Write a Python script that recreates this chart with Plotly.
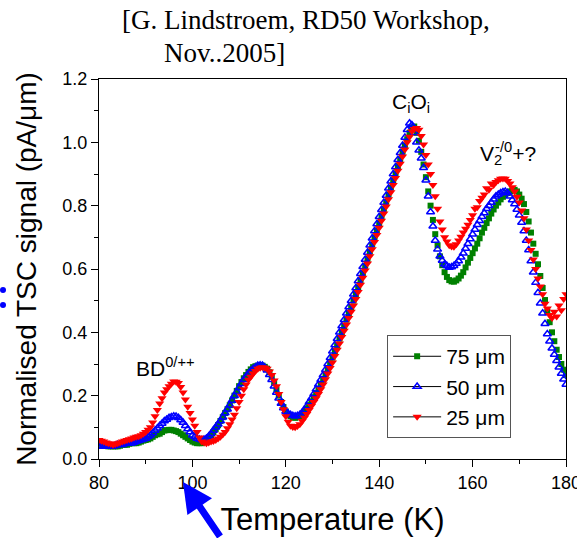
import plotly.graph_objects as go

# Temperature grid (K), 0.5 K steps from 80 to 180
temperature = [80 + 0.5 * i for i in range(201)]

# 75 um  (each row = 5 K, 0.5 K steps)
tsc_75 = [
    0.050, 0.048, 0.045, 0.042, 0.040, 0.040, 0.040, 0.040, 0.040, 0.042,   # 80
    0.045, 0.045, 0.045, 0.048, 0.050, 0.050, 0.050, 0.052, 0.055, 0.058,   # 85
    0.060, 0.062, 0.065, 0.070, 0.075, 0.078, 0.080, 0.085, 0.090, 0.091,   # 90
    0.092, 0.092, 0.090, 0.088, 0.085, 0.080, 0.075, 0.070, 0.065, 0.060,   # 95
    0.055, 0.052, 0.050, 0.050, 0.050, 0.055, 0.060, 0.067, 0.075, 0.085,   # 100
    0.095, 0.107, 0.120, 0.132, 0.145, 0.157, 0.170, 0.185, 0.200, 0.215,   # 105
    0.230, 0.243, 0.255, 0.265, 0.275, 0.283, 0.290, 0.293, 0.295, 0.296,   # 110
    0.295, 0.291, 0.285, 0.274, 0.260, 0.241, 0.220, 0.200, 0.180, 0.164,   # 115
    0.150, 0.141, 0.135, 0.132, 0.130, 0.132, 0.135, 0.142, 0.150, 0.160,   # 120
    0.170, 0.182, 0.195, 0.207, 0.220, 0.235, 0.250, 0.267, 0.285, 0.302,   # 125
    0.320, 0.340, 0.360, 0.380, 0.400, 0.420, 0.440, 0.460, 0.480, 0.500,   # 130
    0.520, 0.542, 0.565, 0.587, 0.610, 0.632, 0.655, 0.677, 0.700, 0.722,   # 135
    0.745, 0.767, 0.790, 0.812, 0.835, 0.857, 0.880, 0.902, 0.925, 0.947,   # 140
    0.970, 0.990, 1.010, 1.030, 1.045, 1.050, 1.030, 1.005, 0.970, 0.930,   # 145
    0.890, 0.845, 0.800, 0.755, 0.710, 0.675, 0.640, 0.612, 0.590, 0.575,   # 150
    0.565, 0.561, 0.560, 0.564, 0.570, 0.579, 0.590, 0.605, 0.620, 0.635,   # 155
    0.650, 0.665, 0.680, 0.697, 0.715, 0.730, 0.745, 0.760, 0.775, 0.788,   # 160
    0.800, 0.810, 0.820, 0.828, 0.835, 0.840, 0.845, 0.848, 0.850, 0.845,   # 165
    0.835, 0.822, 0.805, 0.780, 0.750, 0.715, 0.680, 0.648, 0.615, 0.578,   # 170
    0.540, 0.502, 0.465, 0.432, 0.400, 0.372, 0.345, 0.322, 0.300, 0.282,   # 175
    0.265,                                                                  # 180
]

# 50 um
tsc_50 = [
    0.040, 0.040, 0.040, 0.040, 0.040, 0.040, 0.040, 0.042, 0.045, 0.045,   # 80
    0.045, 0.048, 0.050, 0.050, 0.050, 0.052, 0.055, 0.058, 0.060, 0.062,   # 85
    0.065, 0.070, 0.075, 0.082, 0.090, 0.097, 0.105, 0.112, 0.120, 0.125,   # 90
    0.130, 0.133, 0.135, 0.134, 0.130, 0.123, 0.115, 0.105, 0.095, 0.085,   # 95
    0.075, 0.070, 0.065, 0.062, 0.060, 0.062, 0.065, 0.072, 0.080, 0.090,   # 100
    0.100, 0.110, 0.120, 0.132, 0.145, 0.157, 0.170, 0.185, 0.200, 0.212,   # 105
    0.225, 0.238, 0.250, 0.260, 0.270, 0.278, 0.285, 0.290, 0.295, 0.296,   # 110
    0.295, 0.289, 0.280, 0.266, 0.250, 0.230, 0.210, 0.192, 0.175, 0.161,   # 115
    0.150, 0.144, 0.140, 0.137, 0.135, 0.137, 0.140, 0.147, 0.155, 0.167,   # 120
    0.180, 0.192, 0.205, 0.220, 0.235, 0.250, 0.265, 0.282, 0.300, 0.320,   # 125
    0.340, 0.360, 0.380, 0.400, 0.420, 0.440, 0.460, 0.480, 0.500, 0.520,   # 130
    0.540, 0.562, 0.585, 0.607, 0.630, 0.652, 0.675, 0.697, 0.720, 0.742,   # 135
    0.765, 0.787, 0.810, 0.832, 0.855, 0.877, 0.900, 0.922, 0.945, 0.967,   # 140
    0.990, 1.015, 1.040, 1.060, 1.055, 1.030, 1.000, 0.975, 0.950, 0.920,   # 145
    0.880, 0.830, 0.780, 0.735, 0.690, 0.662, 0.640, 0.627, 0.615, 0.610,   # 150
    0.605, 0.606, 0.610, 0.617, 0.625, 0.637, 0.650, 0.665, 0.680, 0.695,   # 155
    0.710, 0.725, 0.740, 0.752, 0.765, 0.777, 0.790, 0.800, 0.810, 0.820,   # 160
    0.830, 0.835, 0.840, 0.843, 0.845, 0.840, 0.830, 0.818, 0.805, 0.788,   # 165
    0.770, 0.747, 0.720, 0.690, 0.660, 0.625, 0.590, 0.557, 0.525, 0.492,   # 170
    0.460, 0.427, 0.395, 0.372, 0.350, 0.330, 0.310, 0.290, 0.270, 0.252,   # 175
    0.235,                                                                  # 180
]

# 25 um
tsc_25 = [
    0.060, 0.058, 0.055, 0.052, 0.050, 0.048, 0.045, 0.047, 0.050, 0.052,   # 80
    0.055, 0.058, 0.060, 0.062, 0.065, 0.068, 0.070, 0.072, 0.075, 0.080,   # 85
    0.085, 0.092, 0.100, 0.115, 0.135, 0.155, 0.175, 0.192, 0.210, 0.220,   # 90
    0.230, 0.238, 0.245, 0.244, 0.240, 0.227, 0.210, 0.188, 0.165, 0.145,   # 95
    0.125, 0.105, 0.085, 0.068, 0.055, 0.052, 0.050, 0.052, 0.055, 0.057,   # 100
    0.060, 0.065, 0.070, 0.077, 0.085, 0.097, 0.110, 0.125, 0.140, 0.160,   # 105
    0.180, 0.200, 0.220, 0.235, 0.250, 0.260, 0.270, 0.278, 0.285, 0.288,   # 110
    0.290, 0.288, 0.285, 0.276, 0.265, 0.248, 0.230, 0.205, 0.180, 0.157,   # 115
    0.135, 0.118, 0.105, 0.101, 0.100, 0.104, 0.110, 0.120, 0.130, 0.142,   # 120
    0.155, 0.167, 0.180, 0.192, 0.205, 0.220, 0.235, 0.252, 0.270, 0.287,   # 125
    0.305, 0.325, 0.345, 0.365, 0.385, 0.405, 0.425, 0.445, 0.465, 0.485,   # 130
    0.505, 0.527, 0.550, 0.572, 0.595, 0.617, 0.640, 0.662, 0.685, 0.707,   # 135
    0.730, 0.752, 0.775, 0.797, 0.820, 0.842, 0.865, 0.887, 0.910, 0.932,   # 140
    0.955, 0.977, 1.000, 1.018, 1.035, 1.042, 1.045, 1.040, 1.020, 0.993,   # 145
    0.960, 0.930, 0.900, 0.865, 0.830, 0.790, 0.750, 0.725, 0.700, 0.687,   # 150
    0.675, 0.671, 0.670, 0.678, 0.690, 0.702, 0.715, 0.727, 0.740, 0.755,   # 155
    0.770, 0.790, 0.795, 0.815, 0.825, 0.835, 0.855, 0.850, 0.870, 0.865,   # 160
    0.875, 0.880, 0.885, 0.886, 0.885, 0.878, 0.870, 0.858, 0.845, 0.828,   # 165
    0.810, 0.785, 0.760, 0.725, 0.690, 0.660, 0.630, 0.600, 0.570, 0.545,   # 170
    0.520, 0.490, 0.475, 0.455, 0.445, 0.465, 0.450, 0.485, 0.470, 0.505,   # 175
    0.520,                                                                  # 180
]

series_names = ["75 \u03bcm", "50 \u03bcm", "25 \u03bcm"]

SANS = "Liberation Sans, Arial, sans-serif"
SERIF = "Liberation Serif, Times New Roman, serif"

green = "#008000"
blue = "#0000FF"
red = "#FF0000"

marker_styles = [
    dict(symbol="square", size=6, color=green),
    dict(symbol="triangle-up-open", size=7, color=blue, line=dict(width=1.5, color=blue)),
    dict(symbol="triangle-down", size=8, color=red),
]

fig = go.Figure()

for yvals, mk in zip([tsc_75, tsc_50, tsc_25], marker_styles):
    fig.add_trace(go.Scatter(x=temperature, y=yvals, mode="markers",
                             showlegend=False, marker=mk))

# legend entries (line + marker, as in the original)
for name, mk in zip(series_names, marker_styles):
    fig.add_trace(go.Scatter(
        x=[None], y=[None], mode="lines+markers", name=name,
        line=dict(color="black", width=1), marker=mk,
    ))

axis_common = dict(
    showline=True, linecolor="black", linewidth=1, mirror=True,
    ticks="outside", ticklen=7, tickwidth=1, tickcolor="black",
    showgrid=False, zeroline=False, automargin=False,
    tickfont=dict(family=SANS, size=18, color="black"),
)

fig.update_xaxes(
    range=[80, 180], dtick=20, tick0=80, ticklabeloverflow="allow",
    minor=dict(dtick=10, ticks="outside", ticklen=4, tickcolor="black"),
    title=dict(text="Temperature (K)", font=dict(family=SANS, size=31, color="black"), standoff=16),
    **axis_common,
)
fig.update_yaxes(
    range=[0, 1.2], dtick=0.2, tick0=0, tickformat=".1f",
    minor=dict(dtick=0.1, ticks="outside", ticklen=4, tickcolor="black"),
    title=dict(text="Normalised TSC signal (pA/\u03bcm)", font=dict(family=SANS, size=28, color="black"), standoff=17),
    **axis_common,
)

fig.update_layout(
    width=577, height=538,
    margin=dict(l=99, r=11, t=79, b=79),
    paper_bgcolor="white", plot_bgcolor="white",
    legend=dict(
        x=0.617, y=0.326, xanchor="left", yanchor="top",
        bordercolor="#555555", borderwidth=1, bgcolor="white",
        font=dict(family=SANS, size=21, color="black"),
        tracegroupgap=0, itemwidth=48,
    ),
)

# Title lines
fig.add_annotation(text="[G. Lindstroem, RD50 Workshop,", xref="paper", yref="paper",
                   x=(120 - 99) / 467, y=1 + (79 - 20) / 380, xanchor="left", yanchor="middle",
                   showarrow=False, font=dict(family=SERIF, size=27, color="black"))
fig.add_annotation(text="Nov..2005]", xref="paper", yref="paper",
                   x=(162 - 99) / 467, y=1 + (79 - 53) / 380, xanchor="left", yanchor="middle",
                   showarrow=False, font=dict(family=SERIF, size=27, color="black"))

# Peak labels
fig.add_annotation(text="BD<sup>0/++</sup>", x=94.2, y=0.29, xanchor="center", yanchor="middle",
                   showarrow=False, font=dict(family=SANS, size=21, color="black"))
fig.add_annotation(text="C<sub>i</sub>O<sub>i</sub>", x=146.8, y=1.124, xanchor="center", yanchor="middle",
                   showarrow=False, font=dict(family=SANS, size=21, color="black"))
fig.add_annotation(text="V<sub>2</sub>", x=161.2, y=0.96, xanchor="left", yanchor="middle",
                   showarrow=False, font=dict(family=SANS, size=21, color="black"))
fig.add_annotation(text="<sup>-/0</sup>+?", x=164.4, y=0.968, xanchor="left", yanchor="middle",
                   showarrow=False, font=dict(family=SANS, size=21, color="black"))

# Blue arrow pointing at the BD peak temperature
fig.add_annotation(text="", xref="paper", yref="paper",
                   x=(183 - 99) / 467, y=-(482 - 459) / 380,
                   ax=38, ay=68, showarrow=True, arrowhead=2, arrowsize=0.85,
                   arrowwidth=7, arrowcolor=blue, standoff=0)

# two blue dots at left edge
for py in (290, 305):
    cx = (3 - 99) / 467
    cy = (459 - py) / 380
    fig.add_shape(type="circle", xref="paper", yref="paper",
                  x0=cx - 3 / 467, x1=cx + 3 / 467, y0=cy - 3 / 380, y1=cy + 3 / 380,
                  fillcolor=blue, line=dict(width=0))

fig.write_html("out.html", config={"displayModeBar": False},
               post_script="document.body.style.margin='0';")
